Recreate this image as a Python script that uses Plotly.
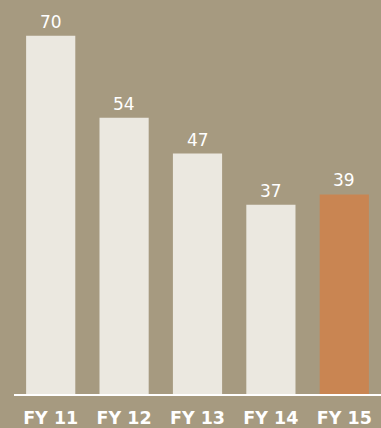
import plotly.graph_objects as go

# Fiscal-year totals
years = ["FY 11", "FY 12", "FY 13", "FY 14", "FY 15"]
values = [70, 54, 47, 37, 39]
bar_colors = ["#ebe8e0", "#ebe8e0", "#ebe8e0", "#ebe8e0", "#c98552"]

BG = "#a69a80"
FONT = "DejaVu Sans"

fig = go.Figure(
    go.Bar(
        x=years,
        y=values,
        width=0.67,
        marker=dict(color=bar_colors, line=dict(width=0)),
        hoverinfo="skip",
    )
)

# Value labels above each bar
for yr, v in zip(years, values):
    fig.add_annotation(
        x=yr, y=v, text=str(v), showarrow=False,
        yanchor="bottom", yshift=2,
        font=dict(family=FONT, size=17, color="white"),
    )

fig.update_layout(
    width=381, height=428,
    margin=dict(l=14, r=0, t=0, b=31),
    paper_bgcolor=BG, plot_bgcolor=BG,
    showlegend=False,
    xaxis=dict(
        range=[-0.5, 4.5],
        showgrid=False, zeroline=False,
        showline=True, linecolor="white", linewidth=2,
        ticks="", ticklabelstandoff=7,
        tickfont=dict(family=FONT, size=17.5, color="white", weight="bold"),
    ),
    yaxis=dict(
        range=[0, 77], visible=False, showgrid=False, zeroline=False,
    ),
)

fig.write_html("out.html")
